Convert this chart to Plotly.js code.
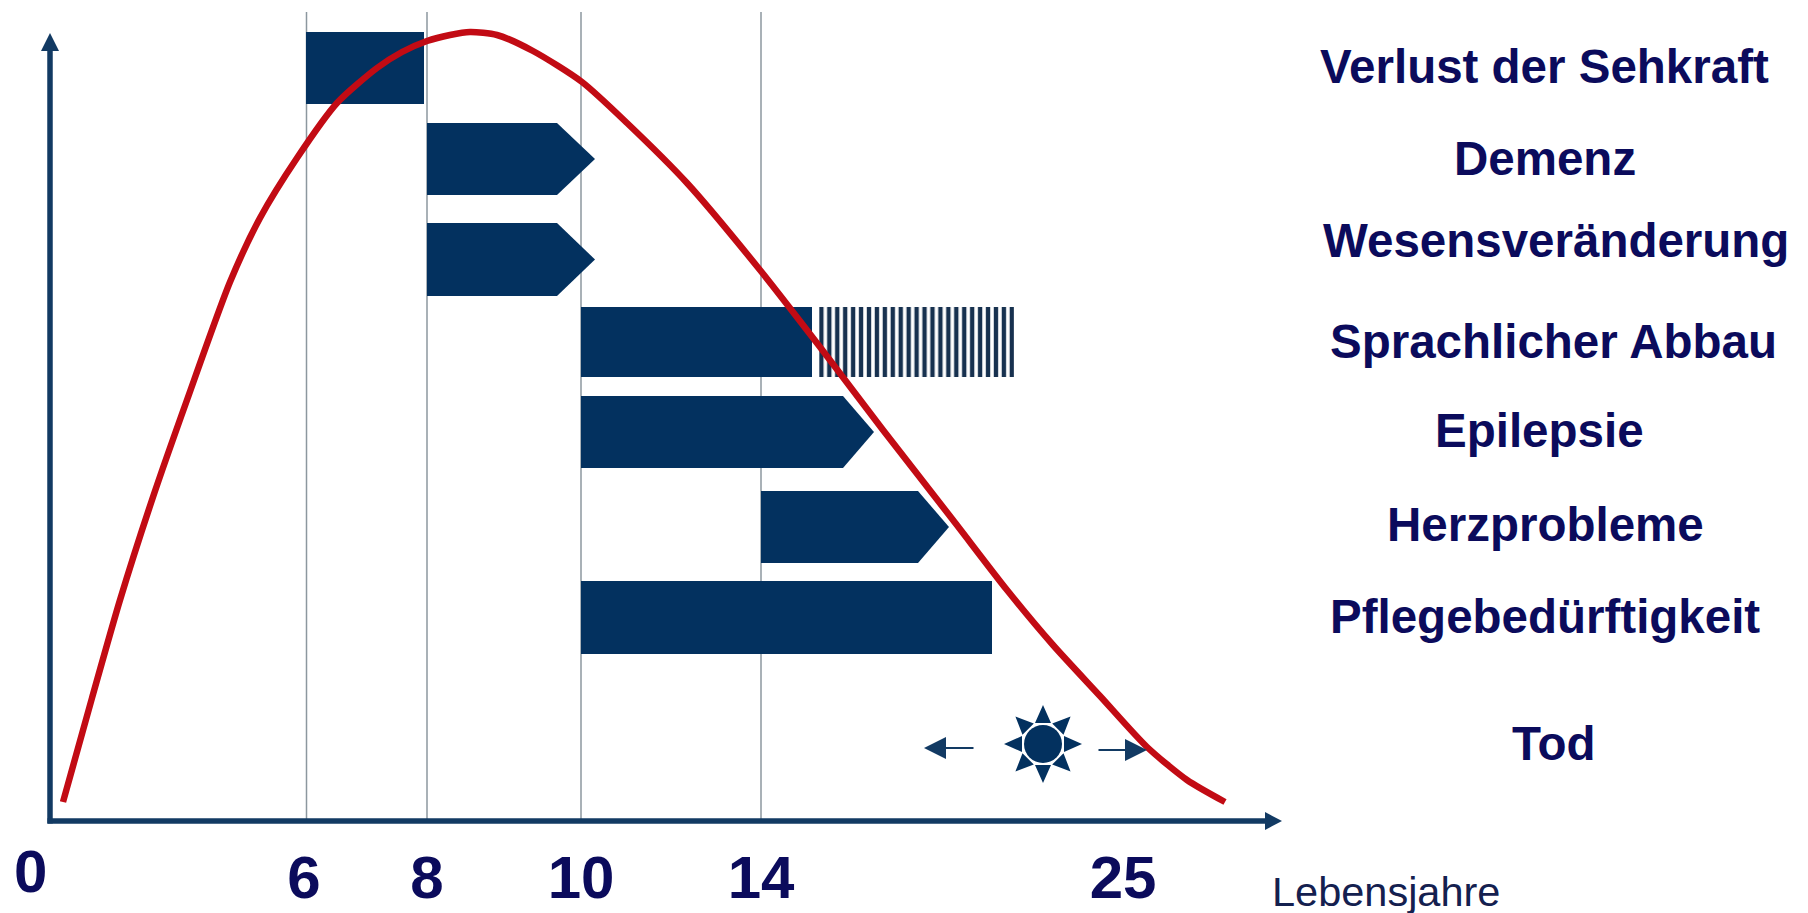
<!DOCTYPE html>
<html><head><meta charset="utf-8">
<script src="https://cdn.plot.ly/plotly-3.0.1.min.js"></script>
<style>html,body{margin:0;padding:0;background:#fff}#c{width:1808px;height:913px}</style>
</head><body><div id="c"></div>
<script>
// Chart units on both axes; the age ticks are not evenly spaced in the source figure.
const ageLabels = ['6','8','10','14','25'];
const agePositions = [304,427,581,761,1123];
const guidePositions = [306.5,427,581,761];
const guideTop = 12, guideBottom = 821;

const symptomLabels = ['Verlust der Sehkraft','Demenz','Wesensveränderung','Sprachlicher Abbau','Epilepsie','Herzprobleme','Pflegebedürftigkeit','Tod'];
const labelX = [1544,1545,1556,1553,1539,1545,1545,1554];
const labelY = [66,158,240,341,430,524,616,743];

// Plain bars
const barStart = [306,581,581];
const barEnd = [424,812,992];
const barTop = [32,307,581];
const barBottom = [104,377,654];
// Bar ending in an arrow tip
const arrowStart = [427,427,581,761];
const arrowShoulder = [557,557,843,918];
const arrowTip = [595,595,874,949];
const arrowTop = [123,223,396,491];
const arrowBottom = [195,296,468,563];
// Uncertain part of speech loss
const hatchStart = 819, hatchEnd = 1014, hatchTop = 307, hatchBottom = 377;

const curveX = [63,92,120,153,187,230,260,297,337,377,402,427,450,470,497,533,582,627,687,760,820,883,953,1007,1053,1100,1147,1187,1225];
const curveY = [802,698,600,497,400,282,218,158,103,68,52,41,35,32,35,51,82,123,183,270,347,430,520,590,645,696,747,780,802];

const navy='#03315f', axisNavy='#123a63', red='#c20b14', text='#0b0b5c';
const traces=[];
// plain bars
barStart.forEach((s,i)=>traces.push({type:'bar',orientation:'h',base:[s],x:[barEnd[i]-s],y:[(barTop[i]+barBottom[i])/2],width:[barBottom[i]-barTop[i]],marker:{color:navy,line:{width:0}}}));
// hatched bar
traces.push({type:'bar',orientation:'h',base:[hatchStart],x:[hatchEnd-hatchStart],y:[(hatchTop+hatchBottom)/2],width:[hatchBottom-hatchTop],
  marker:{color:'#ffffff',line:{width:0},pattern:{shape:'|',size:7.936,solidity:0.55,fgcolor:'#17314f',bgcolor:'#ffffff',fillmode:'replace'}}});
// arrow bars
arrowStart.forEach((s,i)=>{const m=(arrowTop[i]+arrowBottom[i])/2;traces.push({
  x:[s,arrowShoulder[i],arrowTip[i],arrowShoulder[i],s,s],y:[arrowTop[i],arrowTop[i],m,arrowBottom[i],arrowBottom[i],arrowTop[i]],
  mode:'lines',line:{width:0,color:navy},fill:'toself',fillcolor:navy});});
// sun
const sunX=1043,sunY=744,rayInner=21,rayOuter=39,rayHalf=8;
const rx=[],ry=[];
for(let k=0;k<8;k++){const a=k*Math.PI/4,c=Math.cos(a),s=Math.sin(a);
  rx.push(sunX+rayInner*c-rayHalf*s,sunX+rayOuter*c,sunX+rayInner*c+rayHalf*s,sunX+rayInner*c-rayHalf*s,null);
  ry.push(sunY+rayInner*s+rayHalf*c,sunY+rayOuter*s,sunY+rayInner*s-rayHalf*c,sunY+rayInner*s+rayHalf*c,null);}
traces.push({x:rx,y:ry,mode:'lines',line:{width:0,color:navy},fill:'toself',fillcolor:navy});
traces.push({x:[sunX],y:[sunY],mode:'markers',marker:{symbol:'circle',size:38,color:navy}});
// axes with arrow heads
traces.push({x:[50,50],y:[823.5,45],mode:'lines',line:{width:5.5,color:axisNavy}});
traces.push({x:[47.5,1270],y:[821,821],mode:'lines',line:{width:5.5,color:axisNavy}});
traces.push({x:[41,50,59,41],y:[51,33,51,51],mode:'lines',line:{width:0,color:axisNavy},fill:'toself',fillcolor:axisNavy});
traces.push({x:[1265,1282,1265,1265],y:[812,821,830,812],mode:'lines',line:{width:0,color:axisNavy},fill:'toself',fillcolor:axisNavy});
// curve
traces.push({x:curveX,y:curveY,mode:'lines',line:{color:red,width:6.5,shape:'spline',smoothing:0.7}});

const W=1808,H=913;
const ann=symptomLabels.map((t,i)=>({text:t,xref:'paper',yref:'paper',x:labelX[i]/W,y:1-labelY[i]/H,showarrow:false,xanchor:'center',yanchor:'middle',
  font:{family:'Liberation Sans',size:47.5,weight:700,color:text}}));
ann.push({text:'0',xref:'paper',yref:'paper',x:30/W,y:1-871/H,showarrow:false,xanchor:'center',yanchor:'middle',font:{family:'Liberation Sans',size:60,weight:700,color:text}});
ann.push({text:'Lebensjahre',xref:'paper',yref:'paper',x:1270/W,y:1-891/H,showarrow:false,xanchor:'left',yanchor:'middle',font:{family:'Liberation Sans',size:41.5,color:'#14204f'}});
ann.push({x:924,y:748,ax:975,ay:748,xref:'x',yref:'y',axref:'x',ayref:'y',text:'',showarrow:true,arrowhead:2,arrowsize:2.2,arrowwidth:2,arrowcolor:axisNavy});
ann.push({x:1147,y:750,ax:1097,ay:750,xref:'x',yref:'y',axref:'x',ayref:'y',text:'',showarrow:true,arrowhead:2,arrowsize:2.2,arrowwidth:2,arrowcolor:axisNavy});

const layout={width:W,height:H,margin:{l:0,r:0,t:0,b:0,pad:0},paper_bgcolor:'#fff',plot_bgcolor:'#fff',showlegend:false,hovermode:false,barmode:'overlay',
  xaxis:{domain:[0,1],range:[0,W],showgrid:false,zeroline:false,showline:false,ticks:'',ticklabelposition:'inside',
    tickmode:'array',tickvals:agePositions,ticktext:ageLabels,tickfont:{family:'Liberation Sans',size:60,weight:700,color:text},ticklabelstandoff:0,automargin:false},
  yaxis:{domain:[0,1],range:[H,0],showgrid:false,zeroline:false,showline:false,ticks:'',showticklabels:false,automargin:false},
  shapes:guidePositions.map(x=>({type:'line',xref:'x',yref:'y',x0:x,x1:x,y0:guideTop,y1:guideBottom,layer:'below',line:{color:'#8c979f',width:1.5}})),
  annotations:ann};
Plotly.newPlot('c',traces,layout,{displayModeBar:false,staticPlot:true});
</script></body></html>
